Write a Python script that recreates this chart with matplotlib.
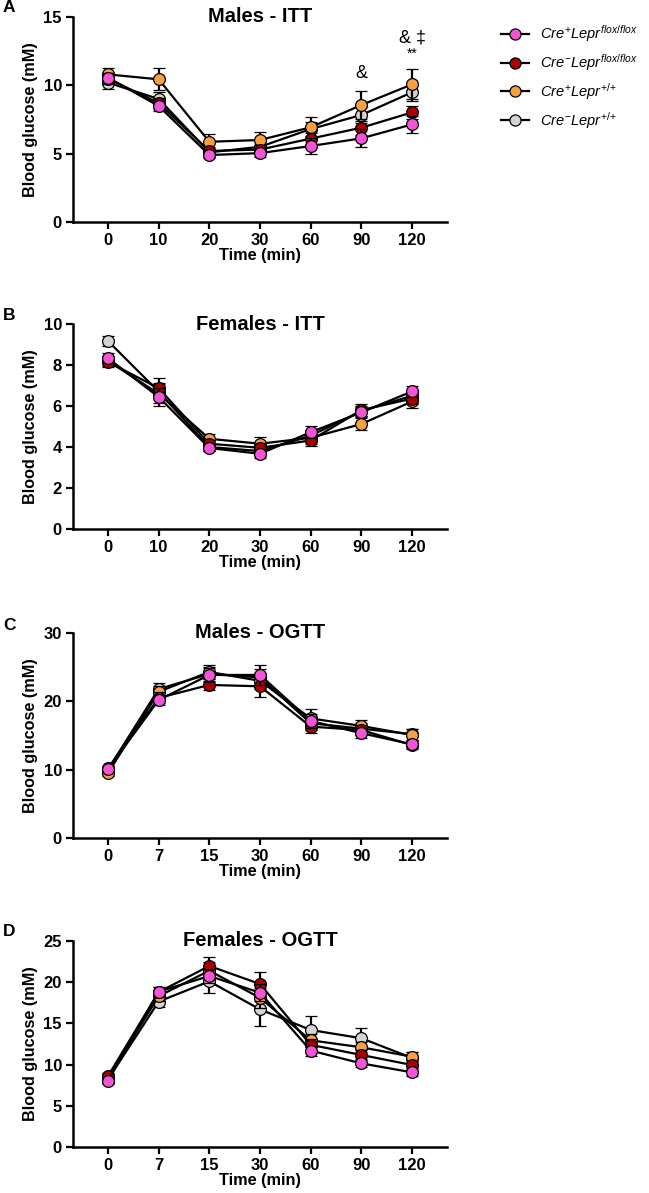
import matplotlib
matplotlib.use("Agg")
import matplotlib.pyplot as plt
from matplotlib.lines import Line2D
import numpy as np

plt.rcParams['font.family'] = ['Liberation Sans', 'DejaVu Sans']
plt.rcParams['mathtext.fontset'] = 'custom'
plt.rcParams['mathtext.rm'] = 'Liberation Sans'
plt.rcParams['mathtext.it'] = 'Liberation Sans:italic'
plt.rcParams['mathtext.bf'] = 'Liberation Sans:bold'

# ---------------- data ----------------
itt_times = ['0', '10', '20', '30', '60', '90', '120']
ogtt_times = ['0', '7', '15', '30', '60', '90', '120']

group_labels = [r'$Cre^{+}Lepr^{flox/flox}$', r'$Cre^{-}Lepr^{flox/flox}$',
                r'$Cre^{+}Lepr^{{+}/{+}}$', r'$Cre^{-}Lepr^{{+}/{+}}$']
group_colors = ['#F455D6', '#A80000', '#F7A042', '#D4D4D4']

# Panel A: Males - ITT  (order: pink, darkred, orange, gray)
a_pink   = [10.56, 8.49, 4.90, 5.04, 5.56, 6.12, 7.14]
a_red    = [10.50, 8.70, 5.20, 5.30, 6.10, 6.90, 8.02]
a_orange = [10.80, 10.44, 5.87, 6.00, 6.93, 8.56, 10.07]
a_gray   = [10.20, 9.00, 5.10, 5.50, 6.80, 7.83, 9.49]
a_pink_e   = [0.35, 0.40, 0.25, 0.25, 0.60, 0.65, 0.65]
a_red_e    = [0.40, 0.40, 0.30, 0.30, 0.40, 0.50, 0.50]
a_orange_e = [0.45, 0.80, 0.60, 0.55, 0.75, 1.00, 1.10]
a_gray_e   = [0.45, 0.50, 0.30, 0.40, 0.50, 0.60, 0.60]

# Panel B: Females - ITT
b_pink   = [8.33, 6.44, 3.95, 3.67, 4.72, 5.69, 6.71]
b_red    = [8.15, 6.87, 4.16, 3.96, 4.32, 5.80, 6.36]
b_orange = [8.20, 6.60, 4.40, 4.16, 4.45, 5.12, 6.22]
b_gray   = [9.17, 6.70, 4.00, 3.80, 4.55, 5.75, 6.50]
b_pink_e   = [0.25, 0.45, 0.15, 0.20, 0.30, 0.25, 0.25]
b_red_e    = [0.25, 0.50, 0.20, 0.25, 0.25, 0.30, 0.25]
b_orange_e = [0.25, 0.45, 0.25, 0.33, 0.30, 0.30, 0.30]
b_gray_e   = [0.25, 0.40, 0.20, 0.25, 0.30, 0.25, 0.25]

# Panel C: Males - OGTT
c_pink   = [10.05, 20.20, 23.86, 23.86, 17.13, 15.34, 13.71]
c_red    = [10.20, 20.50, 22.40, 22.20, 16.30, 15.80, 13.60]
c_orange = [9.47, 21.40, 24.30, 23.00, 17.50, 16.40, 15.07]
c_gray   = [10.00, 21.80, 24.00, 23.50, 16.80, 16.00, 15.20]
c_pink_e   = [0.40, 0.80, 1.00, 1.40, 1.00, 0.70, 0.60]
c_red_e    = [0.40, 0.80, 0.80, 1.60, 0.90, 0.70, 0.60]
c_orange_e = [0.40, 0.90, 1.00, 1.20, 1.40, 0.80, 0.90]
c_gray_e   = [0.40, 0.90, 1.00, 1.20, 1.00, 0.80, 0.80]

# Panel D: Females - OGTT
d_pink   = [8.05, 18.86, 20.75, 18.73, 11.70, 10.15, 9.06]
d_red    = [8.60, 18.80, 21.97, 19.78, 12.40, 11.17, 9.95]
d_orange = [8.40, 18.30, 21.40, 18.10, 12.95, 12.10, 10.96]
d_gray   = [8.20, 17.65, 20.10, 16.70, 14.20, 13.20, 10.80]
d_pink_e   = [0.40, 0.50, 0.80, 1.00, 0.60, 0.50, 0.50]
d_red_e    = [0.40, 0.60, 1.10, 1.50, 0.70, 0.60, 0.50]
d_orange_e = [0.40, 0.60, 1.00, 1.20, 0.80, 0.60, 0.60]
d_gray_e   = [0.40, 0.60, 1.40, 2.00, 1.75, 1.30, 0.70]

panels = [
    dict(letter='A', title='Males - ITT', times=itt_times, ymax=15, yticks=[0, 5, 10, 15],
         vals=[a_pink, a_red, a_orange, a_gray], errs=[a_pink_e, a_red_e, a_orange_e, a_gray_e]),
    dict(letter='B', title='Females - ITT', times=itt_times, ymax=10, yticks=[0, 2, 4, 6, 8, 10],
         vals=[b_pink, b_red, b_orange, b_gray], errs=[b_pink_e, b_red_e, b_orange_e, b_gray_e]),
    dict(letter='C', title='Males - OGTT', times=ogtt_times, ymax=30, yticks=[0, 10, 20, 30],
         vals=[c_pink, c_red, c_orange, c_gray], errs=[c_pink_e, c_red_e, c_orange_e, c_gray_e]),
    dict(letter='D', title='Females - OGTT', times=ogtt_times, ymax=25, yticks=[0, 5, 10, 15, 20, 25],
         vals=[d_pink, d_red, d_orange, d_gray], errs=[d_pink_e, d_red_e, d_orange_e, d_gray_e]),
]

W, H = 649, 1193
fig = plt.figure(figsize=(W / 100, H / 100), dpi=100)

ax_left = 73 / W
ax_width = (447 - 73) / W
tops_px = [17, 324, 633, 941]
bottoms_px = [222, 529, 838, 1147]
letter_y_px = [8, 315, 625, 931]

draw_order = [3, 2, 1, 0]  # gray, orange, darkred, pink (pink on top)

axes = []
for i, p in enumerate(panels):
    bottom = 1 - bottoms_px[i] / H
    height = (bottoms_px[i] - tops_px[i]) / H
    ax = fig.add_axes([ax_left, bottom, ax_width, height])
    axes.append(ax)
    x = np.arange(len(p['times']))
    for k, g in enumerate(draw_order):
        ax.errorbar(x, p['vals'][g], yerr=p['errs'][g], color='black', lw=1.6,
                    marker='o', markersize=8.5, markerfacecolor=group_colors[g],
                    markeredgecolor='black', markeredgewidth=0.9,
                    ecolor='black', elinewidth=1.6, capsize=4, capthick=1.6,
                    zorder=3 + k)
    ax.set_xlim(-0.69, 6.69)
    ax.set_ylim(0, p['ymax'])
    ax.set_yticks(p['yticks'])
    ax.set_xticks(x)
    ax.set_xticklabels(p['times'])
    for s in ['top', 'right']:
        ax.spines[s].set_visible(False)
    for s in ['left', 'bottom']:
        ax.spines[s].set_linewidth(1.8)
    ax.tick_params(axis='both', width=1.6, length=5, labelsize=12, pad=3)
    for lab in ax.get_xticklabels() + ax.get_yticklabels():
        lab.set_fontweight('bold')
    ax.set_xlabel('Time (min)', fontsize=11.7, fontweight='bold', labelpad=0)
    ax.set_ylabel('Blood glucose (mM)', fontsize=11.7, fontweight='bold', labelpad=4)
    ax.text(0.5, 1.0, p['title'], transform=ax.transAxes, ha='center', va='center',
            fontsize=14.5, fontweight='bold')
    fig.text(9 / W, 1 - letter_y_px[i] / H, p['letter'], fontsize=12.5, fontweight='bold',
             ha='center', va='center')

# significance annotations on panel A
axA = axes[0]
axA.text(5, 10.9, '&', ha='center', va='center', fontsize=13)
axA.text(6, 13.45, '& \u2021', ha='center', va='center', fontsize=13)
axA.text(6, 12.3, '**', ha='center', va='center', fontsize=10)

# legend
handles = [Line2D([0], [0], color='black', lw=1.6, marker='o', markersize=8,
                  markerfacecolor=c, markeredgecolor='black', markeredgewidth=0.9)
           for c in group_colors]
fig.legend(handles, group_labels, loc='upper left',
           bbox_to_anchor=(488 / W, 1 - 10 / H), frameon=False, fontsize=10.5,
           handlelength=1.9, handletextpad=0.75, labelspacing=0.55)

fig.savefig('out.png', dpi=100)
